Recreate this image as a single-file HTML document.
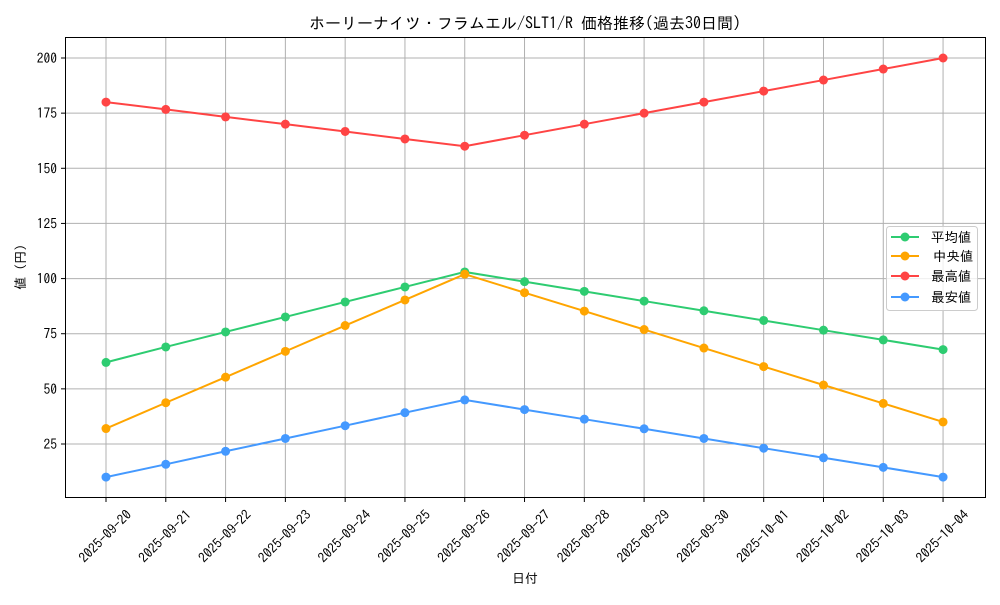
<!DOCTYPE html><html><head><meta charset="utf-8"><style>body{margin:0;background:#fff}svg{font-family:"IPAGothic","Noto Sans CJK JP",sans-serif}</style></head><body>
<svg width="1000" height="600" xmlns="http://www.w3.org/2000/svg" id="s">
<rect width="1000" height="600" fill="#fff"/>
<g id="grid" stroke="#b0b0b0" stroke-width="1"></g>
<rect x="65.5" y="37.5" width="920" height="460" fill="none" stroke="#000" stroke-width="1"/>
<g id="lines"></g>
<text x="525" y="29" font-size="16" text-anchor="middle">ホーリーナイツ・フラムエル/SLT1/R 価格推移(過去30日間)</text>
<text x="525" y="583" font-size="13" text-anchor="middle">日付</text>
<text transform="translate(25,267) rotate(-90)" font-size="13" text-anchor="middle">値 (円)</text>
<g id="ticks" font-size="13.5"></g>
<g>
<rect x="886.5" y="226.5" width="91" height="84" rx="3" fill="#fff" fill-opacity="0.8" stroke="#ccc"/>
<line x1="891" y1="237" x2="919" y2="237" stroke="#2ecc71" stroke-width="2"/><circle cx="905" cy="237" r="4.5" fill="#2ecc71"/><text x="931" y="242" font-size="13.5">平均値</text>
<line x1="891" y1="256" x2="919" y2="256" stroke="#ffa500" stroke-width="2"/><circle cx="905" cy="256" r="4.5" fill="#ffa500"/><text x="933" y="261" font-size="13.5">中央値</text>
<line x1="891" y1="276" x2="919" y2="276" stroke="#ff4444" stroke-width="2"/><circle cx="905" cy="276" r="4.5" fill="#ff4444"/><text x="931" y="281" font-size="13.5">最高値</text>
<line x1="891" y1="297" x2="919" y2="297" stroke="#4499ff" stroke-width="2"/><circle cx="905" cy="297" r="4.5" fill="#4499ff"/><text x="931" y="302" font-size="13.5">最安値</text>
</g>
</svg>
<script>
const X=i=>106+i*59.79, Y=v=>444-(v-25)*2.2057;
const ns="http://www.w3.org/2000/svg";
function el(p,t,a,txt){const e=document.createElementNS(ns,t);for(const k in a)e.setAttribute(k,a[k]);if(txt)e.textContent=txt;document.getElementById(p).appendChild(e);}
const dates=["2025-09-20","2025-09-21","2025-09-22","2025-09-23","2025-09-24","2025-09-25","2025-09-26","2025-09-27","2025-09-28","2025-09-29","2025-09-30","2025-10-01","2025-10-02","2025-10-03","2025-10-04"];
dates.forEach((d,i)=>{const x=X(i);el("grid","line",{x1:x,y1:37.5,x2:x,y2:497.5});el("ticks","line",{x1:x,y1:497.5,x2:x,y2:502,stroke:"#000"});
el("ticks","text",{transform:`translate(${x},${537}) rotate(-45)`,"text-anchor":"middle","dominant-baseline":"middle"},d);});
[25,50,75,100,125,150,175,200].forEach(v=>{const y=Y(v);el("grid","line",{x1:65.5,y1:y,x2:985.5,y2:y});el("ticks","line",{x1:61,y1:y,x2:65.5,y2:y,stroke:"#000"});el("ticks","text",{x:57,y:y+5,"text-anchor":"end"},v);});
const S=[["#2ecc71",[62,69,75.8,82.6,89.4,96.2,103,98.6,94.2,89.8,85.4,81,76.6,72.2,67.8]],
["#ffa500",[32,43.7,55.3,67,78.7,90.3,102,93.6,85.25,76.9,68.5,60.1,51.75,43.4,35]],
["#ff4444",[180,176.7,173.3,170,166.7,163.3,160,165,170,175,180,185,190,195,200]],
["#4499ff",[10,15.8,21.7,27.5,33.3,39.2,45,40.6,36.25,31.9,27.5,23.1,18.75,14.4,10]]];
S.forEach(([c,d])=>{el("lines","polyline",{points:d.map((v,i)=>X(i)+","+Y(v)).join(" "),fill:"none",stroke:c,"stroke-width":2});d.forEach((v,i)=>el("lines","circle",{cx:X(i),cy:Y(v),r:4.5,fill:c}));});
</script>
</body></html>
